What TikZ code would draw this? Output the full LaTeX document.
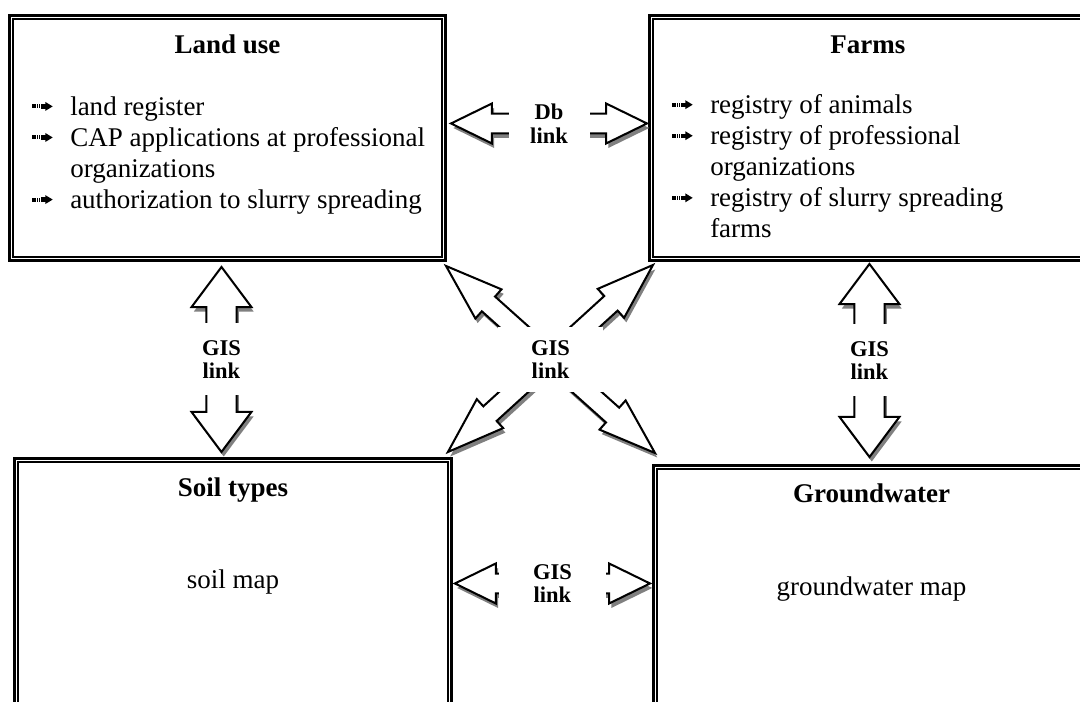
\documentclass[tikz,border=0pt]{standalone}
\usepackage{fontspec}
\setmainfont{Liberation Serif}
\usetikzlibrary{calc,shadows}

% list bullet: striped tail and solid head
\newcommand{\ibul}{\tikz[x=1pt,y=1pt,baseline=-3.9pt]{%
  \foreach \s in {0,1,2,3} \fill ({\s*0.9},-0.9) rectangle ++(0.5,1.8);
  \fill (3.6,-0.95) rectangle (6,0.95);
  \fill (5.7,-2) -- (9,0) -- (5.7,2) -- cycle;}}
\newcommand{\itm}{\makebox[16.8pt][l]{\ibul}}
\newcommand{\cnt}{\hspace*{16.8pt}}
% thin inner frame of a panel
\newcommand{\innerline}[1]{\draw[line width=0.9pt] ([shift={(5,5)}]#1.north west) rectangle ([shift={(-5,-5)}]#1.south east);}
% double block arrow: from, to, head length, head half width, shaft half width
\newcommand{\linkarrow}[5]{%
  \coordinate (ta) at (#1);
  \coordinate (tb) at (#2);
  \draw[blockarr] (ta)
    -- ($($(ta)!#3!(tb)$)!#4!90:(tb)$)
    -- ($($(ta)!#3!(tb)$)!#5!90:(tb)$)
    -- ($($(tb)!#3!(ta)$)!#5!-90:(ta)$)
    -- ($($(tb)!#3!(ta)$)!#4!-90:(ta)$)
    -- (tb)
    -- ($($(tb)!#3!(ta)$)!#4!90:(ta)$)
    -- ($($(tb)!#3!(ta)$)!#5!90:(ta)$)
    -- ($($(ta)!#3!(tb)$)!#5!-90:(tb)$)
    -- ($($(ta)!#3!(tb)$)!#4!-90:(tb)$)
    -- cycle;}

\begin{document}
\begin{tikzpicture}[x=0.4444pt,y=-0.4444pt,
  panel/.style={draw,line width=1.3pt,rectangle,inner sep=0pt,anchor=north west},
  title/.style={font=\bfseries\fontsize{12}{13.8}\selectfont,anchor=base},
  body/.style={font=\fontsize{12}{13.8}\selectfont,align=left,inner sep=0pt},
  blockarr/.style={draw,line width=0.9pt,fill=white,
    drop shadow={shadow xshift=1pt,shadow yshift=-2pt,fill=black!50,opacity=1}},
  linklabel/.style={fill=white,inner sep=0pt,align=center,
    font=\bfseries\fontsize{10}{10.5}\selectfont}]
  \useasboundingbox (0,0) rectangle (1080,702);
  \clip (0,0) rectangle (1080,702);

  % Top left: land use
  \node[panel,minimum width=193.8pt,minimum height=108.9pt] (lu) at (8,14) {};
  \innerline{lu}
  \node[title] (lut) at ($(lu.north)+(0,40)$) {Land use};
  \node[body,anchor=north west] (lub) at (32,96)
    {\itm land register\\
     \itm CAP applications at professional\\
     \cnt organizations\\
     \itm authorization to slurry spreading};

  % Top right: farms
  \node[panel,minimum width=194.2pt,minimum height=108.9pt] (fa) at (648,14) {};
  \innerline{fa}
  \node[title] (fat) at ($(fa.north)+(0,40)$) {Farms};
  \node[body,anchor=north west] (fab) at (672,94)
    {\itm registry of animals\\
     \itm registry of professional\\
     \cnt organizations\\
     \itm registry of slurry spreading\\
     \cnt farms};

  % Bottom left: soil types
  \node[panel,minimum width=194.2pt,minimum height=120pt] (so) at (13,457) {};
  \innerline{so}
  \node[title] (sot) at ($(so.north)+(0,40)$) {Soil types};
  \node[body,anchor=base] (sob) at ($(so.north)+(0,131)$) {soil map};

  % Bottom right: groundwater
  \node[panel,minimum width=193.8pt,minimum height=120pt] (gw) at (652,464) {};
  \innerline{gw}
  \node[title] (gwt) at ($(gw.north)+(0,39)$) {Groundwater};
  \node[body,anchor=base] (gwb) at ($(gw.north)+(0,132)$) {groundwater map};

  % Links
  \linkarrow{[shift={(4,-14.5)}]lu.east}{[shift={(-1,-14.5)}]fa.west}{18.2pt}{8.9pt}{4.4pt}
  \node[linklabel,minimum width=36pt,minimum height=22pt] (dbl) at ($(ta)!0.5!(tb)$) {Db\\link};

  \linkarrow{[shift={(-6,5)}]lu.south}{[shift={(-11.5,-5)}]so.north}{17.8pt}{13.3pt}{6.7pt}
  \node[linklabel,minimum width=22pt,minimum height=32pt] (gl) at ($(ta)!0.5!(tb)$) {GIS\\link};

  \linkarrow{[shift={(1.5,2)}]fa.south}{[shift={(-2,-7)}]gw.north}{17.8pt}{13.3pt}{6.7pt}
  \node[linklabel,minimum width=22pt,minimum height=32pt] (gr) at ($(ta)!0.5!(tb)$) {GIS\\link};

  \linkarrow{[shift={(2,-10)}]so.east}{[shift={(-2,-17)}]gw.west}{18.2pt}{8.9pt}{4.4pt}
  \node[linklabel,minimum width=47.5pt,minimum height=21pt] (gb) at ($(ta)!0.5!(tb)$) {GIS\\link};

  \linkarrow{[shift={(5,3)}]fa.south west}{[shift={(-5,-5)}]so.north east}{25.3pt}{8.7pt}{4.4pt}
  \linkarrow{[shift={(-1,4)}]lu.south east}{[shift={(3,-11)}]gw.north west}{25.3pt}{8.7pt}{4.4pt}
  \node[linklabel,minimum width=46.7pt,minimum height=29.3pt] (gc) at ($(ta)!0.5!(tb)$) {GIS\\link};
\end{tikzpicture}
\end{document}
